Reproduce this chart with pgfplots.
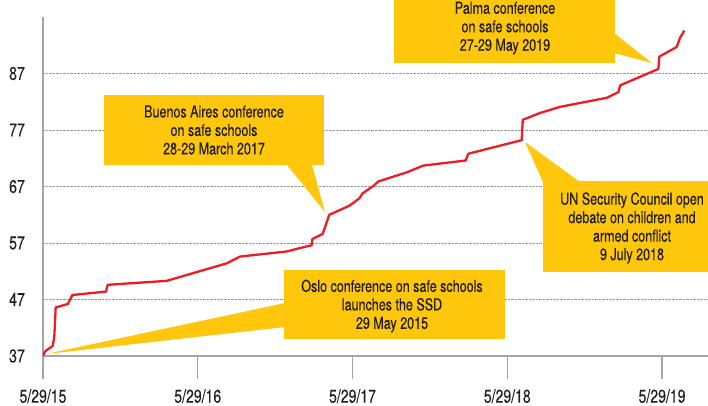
\documentclass[border=0pt]{standalone}
\usepackage{fontspec}
\setmainfont{TeX Gyre Heros}[FakeStretch=0.76,FakeBold=0.4]
\usepackage{pgfplots}
\pgfplotsset{compat=1.18}
\definecolor{cyel}{RGB}{255,199,11}
\definecolor{cred}{RGB}{237,28,36}
\definecolor{caxis}{RGB}{165,165,165}
\definecolor{ctext}{RGB}{35,31,32}
\begin{document}
\begin{tikzpicture}[x=1pt,y=1pt]
\useasboundingbox (0,0) rectangle (708,405);
\begin{axis}[
  at={(43pt,49pt)}, anchor=south west,
  scale only axis, width=665pt, height=339pt,
  xmin=0, xmax=4.297, ymin=37, ymax=97,
  axis x line*=bottom, axis y line*=left,
  axis line style={caxis, line width=1.4pt, -},
  xtick={0,1,2,3,4},
  xticklabels={5/29/15,5/29/16,5/29/17,5/29/18,5/29/19},
  ytick={37,47,57,67,77,87},
  ymajorgrids, grid style={densely dotted, gray!80, line width=0.6pt},
  tick align=outside, major tick length=23pt,
  xtick style={caxis, line width=1.4pt},
  ytick style={draw=none},
  /pgf/number format/assume math mode=true,
  tick label style={font=\fontsize{18.5}{20}\selectfont, text=ctext},
  yticklabel style={inner sep=0pt, xshift=5pt},
  xticklabel style={inner sep=0pt, yshift=-10pt},
]
\addplot[cred, line width=2.3pt, line join=round] coordinates {
(0,37) (0.013,37.8) (0.063,38.8) (0.073,40.4) (0.082,45.6) (0.16,46.2)
(0.19,47.8) (0.407,48.4) (0.418,49.6) (0.799,50.3) (1.187,53.4) (1.273,54.6)
(1.575,55.5) (1.66,56.1) (1.736,56.6) (1.74,57.7) (1.807,58.6) (1.85,62.0)
(1.98,63.6) (2.044,64.9) (2.066,65.8) (2.135,67.1) (2.167,67.9) (2.35,69.5)
(2.457,70.7) (2.731,71.6) (2.748,72.8) (3.093,75.2) (3.1,78.8) (3.21,80.0)
(3.341,81.1) (3.643,82.7) (3.718,83.7) (3.729,84.9) (3.976,87.8) (3.983,90.0)
(4.095,91.7) (4.116,93.3) (4.144,94.6)
};
\end{axis}
% Buenos Aires
\fill[cyel] (287,240) -- (312,240) -- (325,193) -- cycle;
\fill[cyel] (104,240) rectangle (324,310);
\node[align=center, font=\fontsize{16.5}{18.5}\selectfont, text=ctext] at (214,275)
  {Buenos Aires conference\\on safe schools\\28-29 March 2017};
% Oslo
\fill[cyel] (285,102) -- (285,78) -- (46,51) -- cycle;
\fill[cyel] (284,66) rectangle (504.5,135);
\node[align=center, font=\fontsize{16.5}{18.5}\selectfont, text=ctext] at (392,99)
  {Oslo conference on safe schools\\launches the SSD\\29 May 2015};
% Palma
\fill[cyel] (614,372) -- (614,352) -- (652,342) -- cycle;
\fill[cyel] (394,342) rectangle (615,412);
\node[align=center, font=\fontsize{16.5}{18.5}\selectfont, text=ctext] at (505,377)
  {Palma conference\\on safe schools\\27-29 May 2019};
% UN
\fill[cyel] (543,223) -- (580,223) -- (525,263) -- cycle;
\fill[cyel] (543,133) rectangle (722,224);
\node[align=center, font=\fontsize{16.5}{18.5}\selectfont, text=ctext] at (632,177)
  {UN Security Council open\\debate on children and\\armed conflict\\9 July 2018};
\end{tikzpicture}
\end{document}
